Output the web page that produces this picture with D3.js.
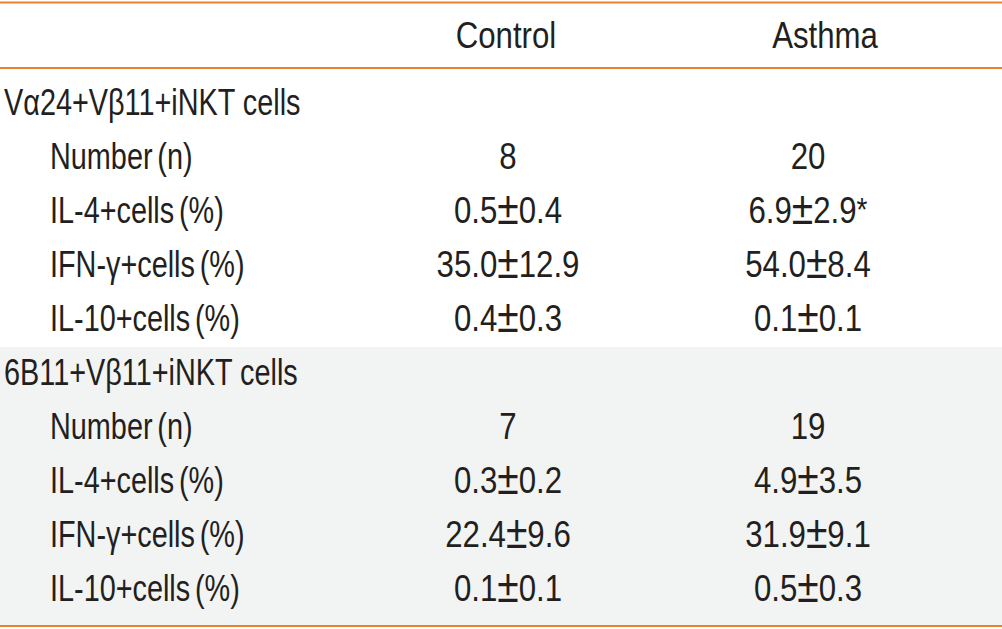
<!DOCTYPE html>
<html>
<head>
<meta charset="utf-8">
<script src="https://cdn.jsdelivr.net/npm/d3@7"></script>
<style>
  html, body { margin: 0; padding: 0; background: #fff; }
  svg { display: block; }
  text { font-family: "Liberation Sans", Arial, sans-serif; fill: #231f20; }
</style>
</head>
<body>
<svg id="chart" width="1002" height="629"></svg>
<script>
const columns = ["Control", "Asthma"];
const groups = ["Vα24+Vβ11+iNKT cells", "6B11+Vβ11+iNKT cells"];
const rowLabels = ["Number (n)", "IL-4+cells (%)", "IFN-γ+cells (%)", "IL-10+cells (%)"];
const controlValues = [
  ["8", "0.5±0.4", "35.0±12.9", "0.4±0.3"],
  ["7", "0.3±0.2", "22.4±9.6", "0.1±0.1"]
];
const asthmaValues = [
  ["20", "6.9±2.9*", "54.0±8.4", "0.1±0.1"],
  ["19", "4.9±3.5", "31.9±9.1", "0.5±0.3"]
];

const W = 1002, H = 629;
const orange = "#e9822e";
const shade = "#f2f3f3";
const fontSize = 36.5;
const sxValue = 0.855;
const sxLabel = 0.79;

const svg = d3.select("#chart");

const rows = [];
groups.forEach((g, gi) => {
  rows.push({ label: g, group: true, gi, vals: ["", ""] });
  rowLabels.forEach((r, ri) => {
    rows.push({ label: r, group: false, gi, vals: [controlValues[gi][ri], asthmaValues[gi][ri]] });
  });
});

const y = d3.scaleBand().domain(d3.range(rows.length)).range([77, 617]);
const colX = d3.scaleOrdinal().domain(columns).range([508, 808]);
const headX = d3.scaleOrdinal().domain(columns).range([506, 825]);

const firstOfGroup2 = rows.findIndex(r => r.group && r.gi === 1);
svg.append("rect")
  .attr("x", 0).attr("width", W)
  .attr("y", y(firstOfGroup2))
  .attr("height", 626 - y(firstOfGroup2))
  .attr("fill", shade);

[2.5, 68, 626].forEach(ly => {
  svg.append("line")
    .attr("x1", 0).attr("x2", W)
    .attr("y1", ly).attr("y2", ly)
    .attr("stroke", orange).attr("stroke-width", 2.2);
});

function addText(x, yy, anchor, sx) {
  return svg.append("text")
    .attr("transform", `translate(${x},${yy}) scale(${sx},1)`)
    .attr("text-anchor", anchor)
    .attr("font-size", fontSize);
}

function addLabel(x, yy, str, isGroup) {
  addText(x, yy, "start", sxLabel)
    .attr("word-spacing", isGroup ? 0 : -4)
    .text(str);
}

function addValue(x, yy, str) {
  const t = addText(x, yy, "middle", sxValue);
  const parts = str.split("±");
  if (parts.length === 2) {
    t.append("tspan").text(parts[0]);
    t.append("tspan").attr("font-size", fontSize * 1.25).attr("dy", 1).text("±");
    let rest = parts[1];
    let star = "";
    if (rest.endsWith("*")) { star = "*"; rest = rest.slice(0, -1); }
    t.append("tspan").attr("dy", -1).text(rest);
    if (star) t.append("tspan").attr("font-size", fontSize * 0.9).attr("dy", -2).text(star);
  } else {
    t.text(str);
  }
}

columns.forEach(c => addText(headX(c), 48, "middle", sxValue).text(c));

rows.forEach((r, i) => {
  const base = y(i) + 38;
  addLabel(r.group ? 4 : 50, base, r.label, r.group);
  columns.forEach((c, ci) => {
    if (r.vals[ci]) addValue(colX(c), base, r.vals[ci]);
  });
});
</script>
</body>
</html>
